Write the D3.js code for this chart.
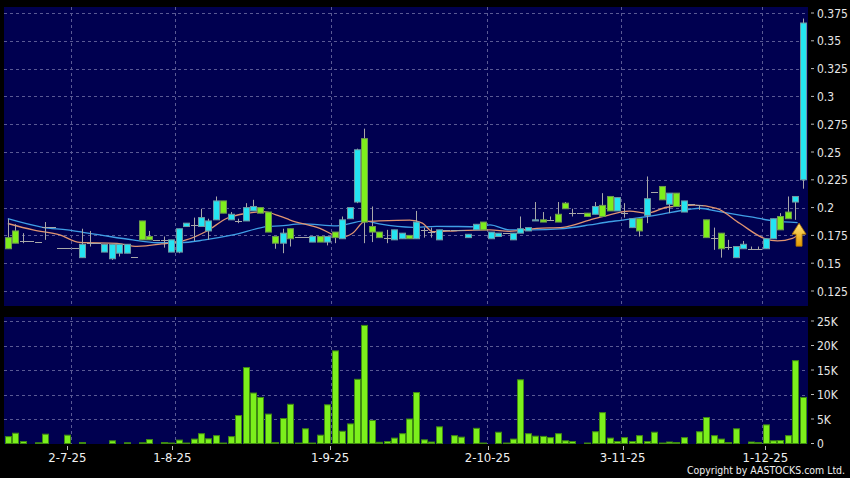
<!DOCTYPE html>
<html><head><meta charset="utf-8">
<script src="https://cdn.jsdelivr.net/npm/d3@7"></script>
<style>html,body{margin:0;padding:0;background:#000;}svg{display:block;}</style>
</head><body>
<svg id="chart" width="850" height="478"></svg>
<script>
// ---- data (one entry per trading day) ----
const opens  = [0.173,0.179,0.170,0.170,0.169,0.183,0.183,0.164,0.164,0.164,
                0.155,0.168,0.168,0.160,0.154,0.159,0.159,0.156,0.188,0.174,
                0.171,0.171,0.160,0.160,0.183,0.184,0.183,0.179,0.189,0.206,
                0.189,0.188,0.188,0.197,0.200,0.196,0.174,0.168,0.181,0.174,
                0.174,0.169,0.174,0.169,0.178,0.172,0.190,0.205,0.262,0.183,
                0.178,0.173,0.171,0.172,0.175,0.172,0.180,0.178,0.171,0.180,
                0.180,0.180,0.173,0.180,0.187,0.172,0.174,0.177,0.171,0.177,
                0.179,0.188,0.189,0.189,0.194,0.204,0.195,0.195,0.195,0.194,
                0.202,0.210,0.197,0.195,0.182,0.190,0.193,0.214,0.219,0.203,
                0.213,0.196,0.203,0.202,0.189,0.173,0.177,0.165,0.155,0.163,
                0.163,0.163,0.163,0.172,0.192,0.196,0.205,0.225];
const highs  = [0.190,0.185,0.177,0.170,0.169,0.187,0.183,0.164,0.164,0.164,
                0.181,0.179,0.168,0.167,0.167,0.167,0.167,0.156,0.188,0.179,
                0.171,0.174,0.171,0.181,0.186,0.191,0.199,0.190,0.210,0.206,
                0.196,0.190,0.204,0.207,0.200,0.196,0.174,0.181,0.181,0.174,
                0.174,0.174,0.174,0.174,0.178,0.192,0.200,0.253,0.271,0.201,
                0.178,0.180,0.180,0.177,0.175,0.197,0.182,0.182,0.180,0.180,
                0.180,0.180,0.176,0.185,0.187,0.178,0.177,0.177,0.177,0.192,
                0.182,0.205,0.196,0.192,0.205,0.205,0.199,0.195,0.195,0.205,
                0.213,0.210,0.209,0.204,0.190,0.190,0.228,0.214,0.219,0.213,
                0.213,0.206,0.203,0.202,0.189,0.182,0.177,0.171,0.165,0.170,
                0.165,0.165,0.172,0.190,0.195,0.210,0.210,0.370];
const lows   = [0.163,0.168,0.168,0.170,0.169,0.171,0.183,0.164,0.164,0.164,
                0.155,0.165,0.168,0.160,0.153,0.156,0.159,0.156,0.171,0.171,
                0.171,0.164,0.160,0.159,0.183,0.170,0.183,0.171,0.189,0.195,
                0.189,0.186,0.188,0.197,0.195,0.178,0.163,0.159,0.165,0.174,
                0.174,0.169,0.169,0.166,0.168,0.172,0.190,0.204,0.168,0.169,
                0.173,0.168,0.171,0.172,0.172,0.172,0.173,0.173,0.171,0.180,
                0.180,0.180,0.173,0.180,0.180,0.172,0.174,0.177,0.171,0.177,
                0.179,0.188,0.187,0.189,0.187,0.199,0.192,0.195,0.192,0.194,
                0.192,0.197,0.197,0.191,0.182,0.174,0.186,0.214,0.207,0.195,
                0.201,0.196,0.203,0.198,0.173,0.162,0.155,0.162,0.155,0.163,
                0.162,0.162,0.163,0.172,0.180,0.190,0.189,0.217];
const closes = [0.163,0.168,0.170,0.170,0.169,0.183,0.183,0.164,0.164,0.164,
                0.167,0.168,0.168,0.167,0.167,0.167,0.167,0.156,0.171,0.171,
                0.171,0.171,0.171,0.181,0.186,0.184,0.191,0.188,0.206,0.195,
                0.194,0.188,0.200,0.201,0.195,0.178,0.168,0.177,0.172,0.174,
                0.174,0.174,0.169,0.174,0.173,0.189,0.200,0.252,0.187,0.178,
                0.173,0.173,0.180,0.177,0.172,0.187,0.180,0.178,0.180,0.180,
                0.180,0.180,0.176,0.185,0.180,0.178,0.177,0.177,0.177,0.181,
                0.182,0.189,0.187,0.189,0.187,0.199,0.195,0.195,0.192,0.201,
                0.192,0.197,0.209,0.195,0.190,0.179,0.208,0.214,0.207,0.213,
                0.201,0.206,0.203,0.202,0.173,0.173,0.163,0.165,0.165,0.167,
                0.163,0.163,0.172,0.190,0.180,0.190,0.210,0.366];
// volume in thousands of shares
const volumes = [1.4,2.1,0.4,0,0.15,1.9,0,0,1.7,0,
                 0.2,0,0,0,0.55,0,0.15,0,0.15,0.8,
                 0,0.2,0.1,0.7,0.1,0.9,2.0,0.96,1.6,0.1,
                 1.4,5.7,15.5,10.3,9.4,6.0,0.2,5.1,8.0,0.1,
                 3.0,0.1,1.7,7.9,18.9,2.5,4.0,13.1,24.1,4.7,
                 0.25,0.4,1.1,2.0,5.0,10.4,0.75,0.3,3.4,0,
                 1.6,1.3,0,3.1,0.1,0,2.3,0.1,0.9,13.0,
                 2.0,1.5,1.45,1.2,2.0,0.55,0.4,0,0.1,2.4,
                 6.3,1.1,0.4,1.2,0.4,1.6,0.4,2.3,0.1,0.3,
                 0.2,1.2,0,2.4,5.3,1.6,0.9,0.2,3.0,0,
                 0.3,0.2,3.8,0.55,0.6,1.6,16.9,9.4];
// moving averages (bar index, value)
const maShortIdx = [0,3.4,7,9.7,14.7,17.4,20.7,24,26.8,29.5,32.2,34.3,36.6,38,42,44.9,46.4,48,50,54.1,55.8,57.2,60.4,64.9,67.5,71.2,74.7,78.3,80.3,83.7,86,88.7,92.4,95.4,98.5,101.8,103.6,105.6,106.6];
const maShortVal = [0.1857,0.1799,0.1754,0.1687,0.1679,0.1652,0.1673,0.1709,0.179,0.1904,0.1949,0.1963,0.1924,0.1888,0.1814,0.1733,0.1769,0.1873,0.1880,0.1888,0.1861,0.1783,0.1792,0.1799,0.1787,0.1814,0.1823,0.1888,0.1924,0.1969,0.1949,0.2003,0.2023,0.1994,0.1859,0.1724,0.1700,0.1724,0.1763];
const maLongIdx = [0,4.7,8,10.1,12.4,16.8,20.1,23.2,26.5,30.3,34.9,36.6,39.7,44.3,48,50,54.5,57.7,63.5,64.9,67.5,70.6,74.3,78.3,80.3,82.7,87.3,91.8,93.1,95.8,99.8,103.2,106.3];
const maLongVal = [0.190,0.1823,0.1799,0.1778,0.1754,0.1709,0.1684,0.1684,0.1709,0.1754,0.1828,0.1835,0.1853,0.1835,0.188,0.1853,0.1823,0.1832,0.1828,0.1844,0.1799,0.1799,0.1808,0.1844,0.1866,0.1888,0.1933,0.1985,0.1994,0.1963,0.1918,0.1880,0.1864];
const dateTickIdx = [9,23,44,65,83,102];
const dateTickLabels = ["2-7-25","1-8-25","1-9-25","2-10-25","3-11-25","1-12-25"];
const priceTicks = [0.125,0.15,0.175,0.2,0.225,0.25,0.275,0.3,0.325,0.35,0.375];
const priceTickLabels = ["0.125","0.15","0.175","0.2","0.225","0.25","0.275","0.3","0.325","0.35","0.375"];
const volumeTicks = [0,5,10,15,20,25];
const volumeTickLabels = ["0","5K","10K","15K","20K","25K"];
const signalIdx = [106];
const signalPrice = [0.186];

// ---- layout ----
const W = 850, H = 478;
const P = {left: 4, right: 808, top: 7, bottom: 306};
const V = {top: 317, bottom: 444};
const n = closes.length;
const idx = d3.range(n);

const svg = d3.select("#chart");
svg.append("rect").attr("width", W).attr("height", H).attr("fill", "#000");

const x = d3.scaleBand().domain(idx).range([4.1, 806.5]).padding(0);
const xc = i => x(i) + x.bandwidth() / 2;
const xLin = d3.scaleLinear().domain([-0.5, n - 0.5]).range([4.1, 806.5]);
const xTick = d3.scaleLinear().domain([0, n]).range([-0.2, 810.3]);
const y = d3.scaleLinear().domain([0.125, 0.375]).range([291, 13]);
const yv = d3.scaleLinear().domain([0, 25]).range([443.5, 321]);

const font = "'DejaVu Sans Condensed', 'DejaVu Sans', sans-serif";
const gridColor = "#5a5a94";
const bg = "#000050";

// panels
svg.append("rect").attr("x", P.left).attr("y", P.top).attr("width", P.right - P.left).attr("height", P.bottom - P.top).attr("fill", bg);
svg.append("rect").attr("x", P.left).attr("y", V.top).attr("width", P.right - P.left).attr("height", V.bottom - V.top).attr("fill", bg);

svg.append("defs").append("clipPath").attr("id", "clipP")
  .append("rect").attr("x", P.left).attr("y", P.top).attr("width", P.right - P.left).attr("height", P.bottom - P.top);

// grid
const grid = svg.append("g").attr("stroke", gridColor).attr("stroke-dasharray", "3,3").attr("stroke-width", 1);
grid.selectAll(".hp").data(priceTicks).join("line")
  .attr("x1", P.left).attr("x2", P.right)
  .attr("y1", d => Math.round(y(d)) + 0.5).attr("y2", d => Math.round(y(d)) + 0.5);
grid.selectAll(".hv").data(volumeTicks.filter(d => d > 0)).join("line").attr("class", "hv")
  .attr("x1", P.left).attr("x2", P.right)
  .attr("y1", d => Math.round(yv(d)) + 0.5).attr("y2", d => Math.round(yv(d)) + 0.5);
grid.selectAll(".vg1").data(dateTickIdx).join("line").attr("class", "vg1")
  .attr("x1", d => Math.round(x(d)) + 0.5).attr("x2", d => Math.round(x(d)) + 0.5)
  .attr("y1", P.top).attr("y2", P.bottom);
grid.selectAll(".vg2").data(dateTickIdx).join("line").attr("class", "vg2")
  .attr("x1", d => Math.round(x(d)) + 0.5).attr("x2", d => Math.round(x(d)) + 0.5)
  .attr("y1", V.top).attr("y2", V.bottom);

// right axis ticks & labels
const axisG = svg.append("g");
axisG.selectAll(".pt").data(priceTicks).join("line")
  .attr("x1", 811).attr("x2", 814).attr("y1", d => y(d)).attr("y2", d => y(d))
  .attr("stroke", "#bbb");
axisG.selectAll(".pl").data(priceTicks).join("text")
  .attr("x", 817).attr("y", d => y(d) + 4.5)
  .attr("fill", "#e6e6e6").attr("font-family", font).attr("font-size", 12)
  .text((d, i) => priceTickLabels[i]);
axisG.selectAll(".vt").data(volumeTicks).join("line").attr("class", "vt")
  .attr("x1", 811).attr("x2", 814).attr("y1", d => yv(d)).attr("y2", d => yv(d))
  .attr("stroke", "#bbb");
axisG.selectAll(".vl").data(volumeTicks).join("text").attr("class", "vl")
  .attr("x", 817).attr("y", d => yv(d) + 4.5)
  .attr("fill", "#e6e6e6").attr("font-family", font).attr("font-size", 12)
  .text((d, i) => volumeTickLabels[i]);

// date axis
axisG.selectAll(".dt").data(dateTickIdx).join("line").attr("class", "dt")
  .attr("x1", d => Math.round(xTick(d)) + 0.5).attr("x2", d => Math.round(xTick(d)) + 0.5)
  .attr("y1", 446).attr("y2", 450).attr("stroke", "#bbb");
axisG.selectAll(".dl").data(dateTickIdx).join("text").attr("class", "dl")
  .attr("x", d => xTick(d)).attr("y", 461.5).attr("text-anchor", "middle")
  .attr("fill", "#f0f0f0").attr("font-family", font).attr("font-size", 13)
  .text((d, i) => dateTickLabels[i]);

svg.append("text").attr("x", 845).attr("y", 473.5).attr("text-anchor", "end")
  .attr("fill", "#f0f0f0").attr("font-family", font).attr("font-size", 10)
  .attr("textLength", 158).attr("lengthAdjust", "spacingAndGlyphs")
  .text("Copyright by AASTOCKS.com Ltd.");

// moving averages
const plot = svg.append("g").attr("clip-path", "url(#clipP)");
const line = d3.line().x(d => xLin(d[0])).y(d => y(d[1])).curve(d3.curveMonotoneX);
plot.append("path").datum(maLongIdx.map((d, i) => [d, maLongVal[i]]))
  .attr("d", line).attr("fill", "none").attr("stroke", "#3f9fe6").attr("stroke-width", 1.3);
plot.append("path").datum(maShortIdx.map((d, i) => [d, maShortVal[i]]))
  .attr("d", line).attr("fill", "none").attr("stroke", "#e09470").attr("stroke-width", 1.3);

// candles
const up = "#24e4f2", down = "#7eee1c";
const cg = plot.selectAll(".c").data(idx).join("g");
cg.append("line")
  .attr("x1", i => Math.round(xc(i)) + 0.5).attr("x2", i => Math.round(xc(i)) + 0.5)
  .attr("y1", i => y(highs[i])).attr("y2", i => y(lows[i]))
  .attr("stroke", "#a8a8a8").attr("stroke-width", 1);
cg.each(function(i) {
  const g = d3.select(this);
  const cx = Math.round(xc(i));
  if (opens[i] === closes[i]) {
    g.append("line").attr("x1", cx - 3).attr("x2", cx + 4)
      .attr("y1", Math.round(y(closes[i])) + 0.5).attr("y2", Math.round(y(closes[i])) + 0.5)
      .attr("stroke", "#a8a8a8").attr("stroke-width", 1);
  } else {
    const top = y(Math.max(opens[i], closes[i])), bot = y(Math.min(opens[i], closes[i]));
    g.append("rect").attr("x", cx - 2.5).attr("y", top).attr("width", 6).attr("height", Math.max(1, bot - top))
      .attr("fill", closes[i] > opens[i] ? up : down)
      .attr("stroke", closes[i] > opens[i] ? "#6f9aa3" : "#6f9a4e").attr("stroke-width", 1);
  }
});

// signal arrow
const grad = svg.select("defs").append("linearGradient").attr("id", "gold").attr("x1", 0).attr("x2", 0).attr("y1", 0).attr("y2", 1);
grad.append("stop").attr("offset", "0%").attr("stop-color", "#ffe27a");
grad.append("stop").attr("offset", "100%").attr("stop-color", "#e39a00");
plot.selectAll(".sig").data(signalIdx).join("path")
  .attr("transform", (d, i) => `translate(${xLin(d + 0.5)},${y(signalPrice[i])})`)
  .attr("d", "M0,0 L7,11 L3,11 L3,23 L-3,23 L-3,11 L-7,11 Z")
  .attr("fill", "url(#gold)").attr("stroke", "#b87800").attr("stroke-width", 0.8);

// volume bars
svg.append("g").selectAll("rect").data(idx.filter(i => volumes[i] > 0)).join("rect")
  .attr("x", i => Math.round(xc(i)) - 2.5).attr("width", 6)
  .attr("y", i => yv(volumes[i])).attr("height", i => Math.max(0.5, yv(0) - yv(volumes[i])))
  .attr("fill", "#7cf01c").attr("stroke", "#3f8a12").attr("stroke-width", 1);
</script>
</body></html>
